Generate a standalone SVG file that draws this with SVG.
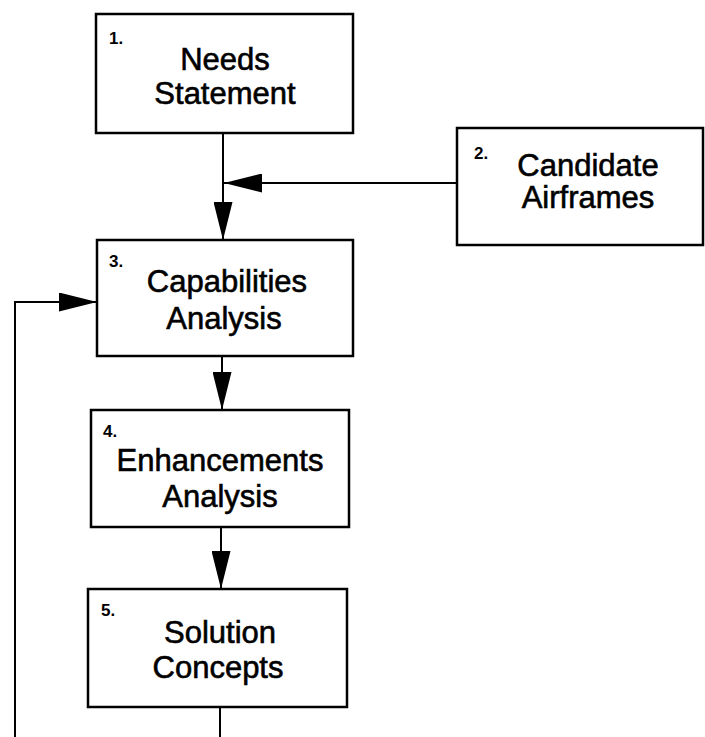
<svg xmlns="http://www.w3.org/2000/svg" width="705" height="737" viewBox="0 0 705 737">
  <style>
    .box { fill: #ffffff; stroke: #000000; stroke-width: 2.5; }
    .title { font-family: "Liberation Sans", Arial, sans-serif; font-size: 31px; fill: #000000; stroke: #000000; stroke-width: 0.6; text-anchor: middle; }
    .num { font-family: "Liberation Sans", Arial, sans-serif; font-size: 17px; font-weight: bold; fill: #000000; }
    .link { fill: none; stroke: #000000; stroke-width: 2; }
  </style>
  <defs>
    <marker id="arrow" viewBox="0 0 38 19" refX="38" refY="9.5" markerWidth="38" markerHeight="19" markerUnits="userSpaceOnUse" orient="auto">
      <path d="M0,0 L38,9.5 L0,19 z" fill="#000000"/>
    </marker>
  </defs>
  <rect width="705" height="737" fill="#ffffff"/>

  <g id="connectors">
    <path class="link" d="M223,133 L223,240" marker-end="url(#arrow)"/>
    <path class="link" d="M457,183 L224,183" marker-end="url(#arrow)"/>
    <path class="link" d="M222,356 L222,410" marker-end="url(#arrow)"/>
    <path class="link" d="M221,527 L221,589" marker-end="url(#arrow)"/>
    <path class="link" d="M220,707 L220,737"/>
    <path class="link" d="M15,737 L15,302 L97,302" marker-end="url(#arrow)"/>
  </g>

  <g id="node1">
    <rect class="box" x="96" y="14" width="257" height="119"/>
    <text class="num" x="109" y="44">1.</text>
    <text class="title" x="225" y="70">Needs</text>
    <text class="title" x="225" y="104">Statement</text>
  </g>

  <g id="node2">
    <rect class="box" x="457" y="128" width="246" height="117"/>
    <text class="num" x="474" y="159">2.</text>
    <text class="title" x="588" y="176">Candidate</text>
    <text class="title" x="588" y="208">Airframes</text>
  </g>

  <g id="node3">
    <rect class="box" x="97" y="240" width="256" height="116"/>
    <text class="num" x="109" y="267">3.</text>
    <text class="title" x="227" y="292">Capabilities</text>
    <text class="title" x="224" y="329">Analysis</text>
  </g>

  <g id="node4">
    <rect class="box" x="91" y="410" width="258" height="117"/>
    <text class="num" x="103" y="437">4.</text>
    <text class="title" x="220" y="471">Enhancements</text>
    <text class="title" x="220" y="507">Analysis</text>
  </g>

  <g id="node5">
    <rect class="box" x="88" y="589" width="259" height="118"/>
    <text class="num" x="101" y="616">5.</text>
    <text class="title" x="220" y="643">Solution</text>
    <text class="title" x="218" y="678">Concepts</text>
  </g>
</svg>
